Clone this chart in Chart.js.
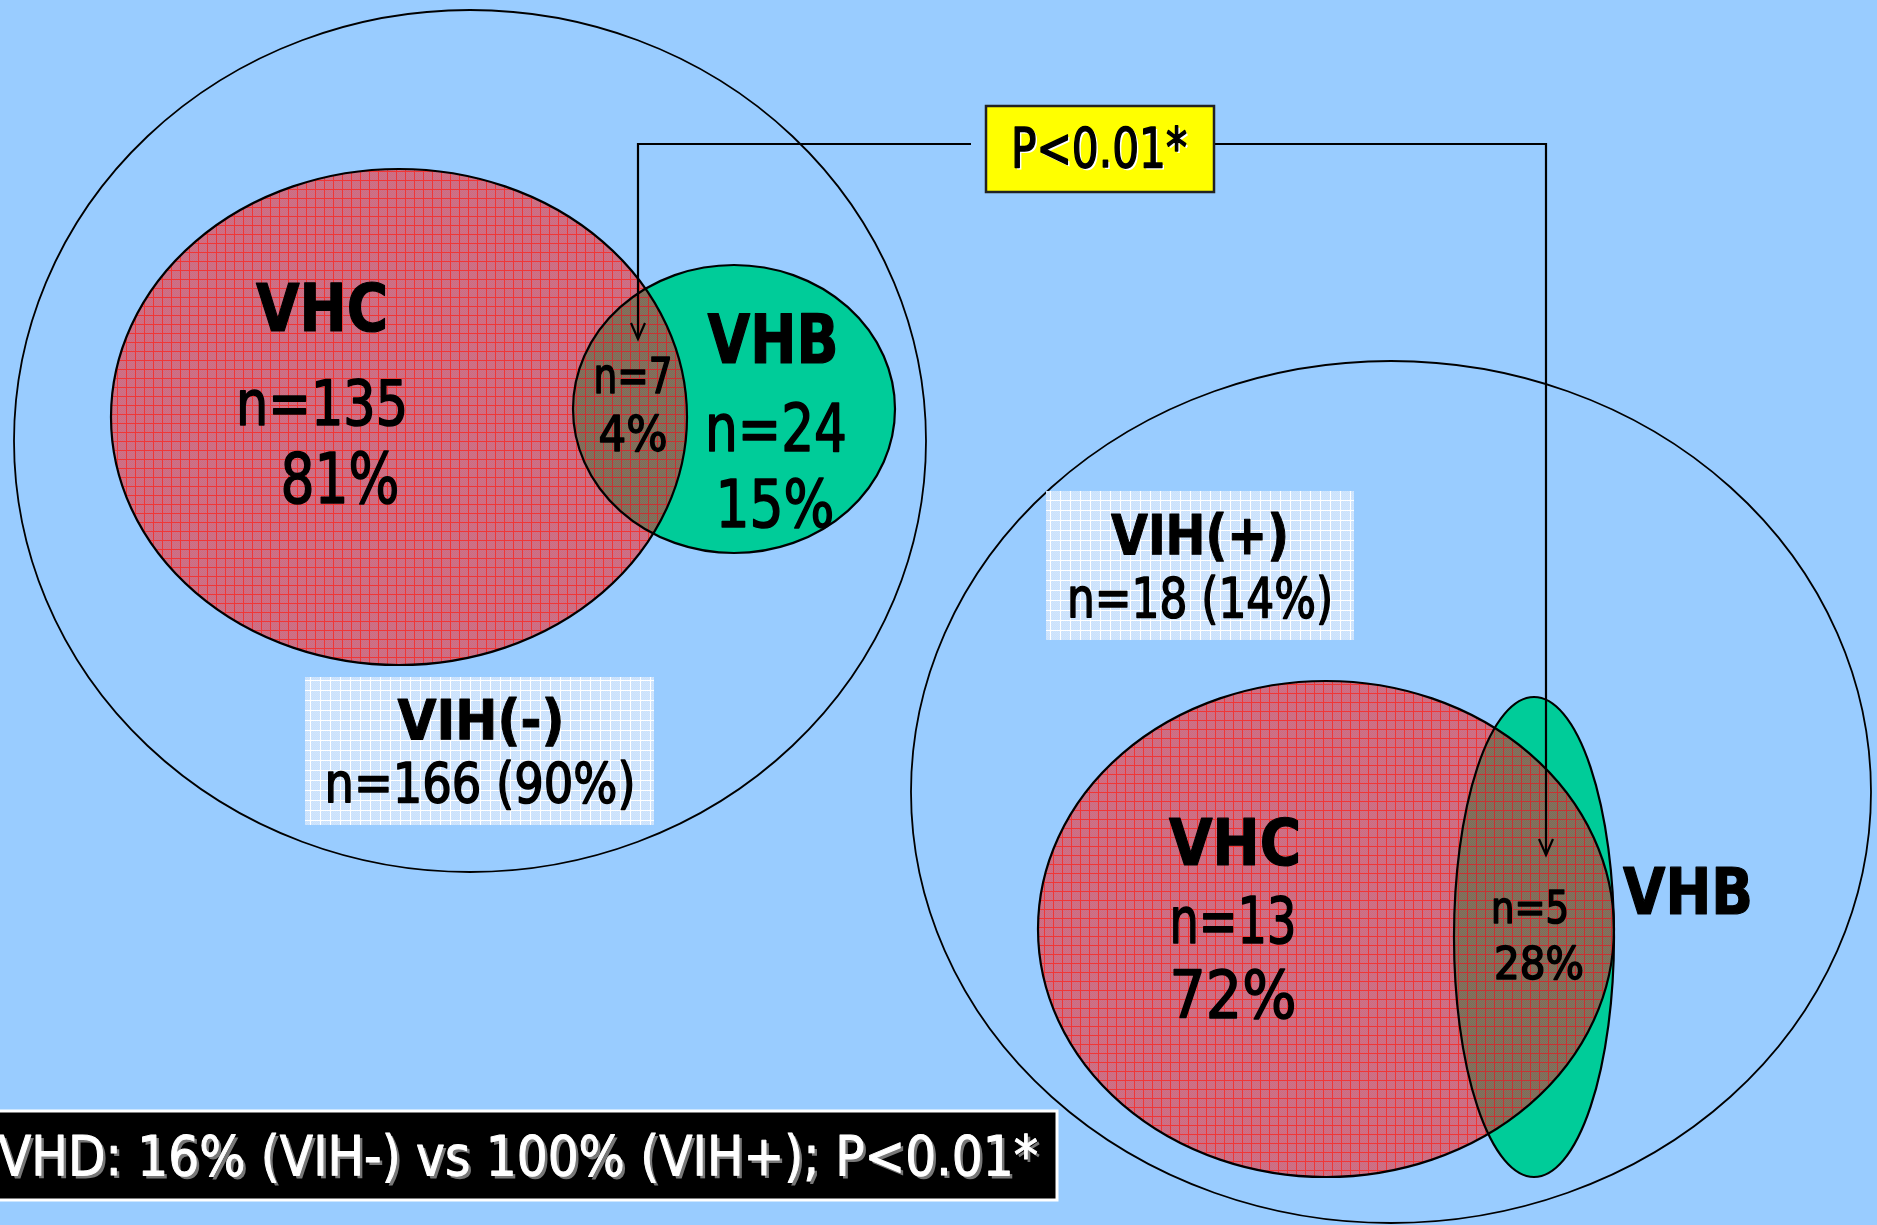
<!DOCTYPE html>
<html>
<head>
<meta charset="utf-8">
<script src="https://cdn.jsdelivr.net/npm/chart.js@4"></script>
<style>
html,body{margin:0;padding:0;background:#99CCFF;overflow:hidden;}
canvas{display:block;}
</style>
</head>
<body>
<canvas id="c" width="1877" height="1225"></canvas>
<script>
// ---------- DATA ----------
const groups   = ['VIH(-)', 'VIH(+)'];
const groupN   = [166, 18];
const groupPct = [90, 14];
const vhcN     = [135, 13];
const vhcPct   = [81, 72];
const vhbN     = [24, null];
const vhbPct   = [15, null];
const coN      = [7, 5];
const coPct    = [4, 28];
const pLabel   = 'P<0.01*';
const footerLabel = 'VHD: 16% (VIH-) vs 100% (VIH+); P<0.01*';

// ---------- LAYOUT (geometry in the 1877x1225 coordinate space) ----------
const layout = {
  outer: [{cx:470, cy:441, rx:456, ry:431}, {cx:1391, cy:792, rx:480, ry:431}],
  vhc:   [{cx:399, cy:417, rx:288, ry:248}, {cx:1326, cy:929, rx:288, ry:248}],
  vhb:   [{cx:734, cy:409, rx:161, ry:144}, {cx:1534, cy:937, rx:80, ry:240}],
  groupBox: [{x0:305, y0:677, x1:654, y1:825}, {x0:1046, y0:491, x1:1354, y1:640}],
  pBox: {x0:986, y0:106, x1:1214, y1:192},
  footBox: {x0:-4, y0:1111, x1:1057, y1:1200},
  arrowY: 144,
  arrowL: {x:638, yEnd:339},
  arrowR: {x:1546, yEnd:855},
  // text: [cx, baseline, capHeight, maxWidth]
  tVhc:   [[322,331,48,132],[1235,865,47,132]],
  tVhcN:  [[322,425,45,172],[1233,943,47,127]],
  tVhcP:  [[340,503,50,119],[1233,1018,48,127]],
  tVhb:   [[773,363,49,131],[1688,914,47,130]],
  tVhbN:  [[776,451,48,142],null],
  tVhbP:  [[775,527,48,119],null],
  tCoN:   [[633,393,36,79],[1530,923,33,78]],
  tCoP:   [[633,451,36,69],[1539,979,33,97]],
  tGrp:   [[481,739,41,180],[1200,554,41,178]],
  tGrpN:  [[480,802,40,311],[1200,617,40,266]],
  tP:     [1099,167,41,176],
  tFoot:  [-2,1175,40,1040]
};

const FONT = '"DejaVu Sans Condensed","DejaVu Sans",sans-serif';

function makePattern(base, line, step, alt){
  const c = document.createElement('canvas');
  c.width = step; c.height = step;
  const g = c.getContext('2d');
  g.fillStyle = base; g.fillRect(0,0,step,step);
  if (alt){
    g.fillStyle = alt;
    for (let i=0;i<step;i++) for (let j=0;j<step;j++) if ((i+j)%2===0) g.fillRect(i,j,1,1);
  }
  g.fillStyle = line;
  g.fillRect(0,0,step,1);
  g.fillRect(0,0,1,step);
  return c;
}

const vennPlugin = {
  id: 'venn',
  beforeDraw(chart){
    const ctx = chart.ctx;
    ctx.save();
    ctx.fillStyle = '#99CCFF';
    ctx.fillRect(0,0,chart.width,chart.height);
    ctx.restore();
  },
  afterDatasetsDraw(chart){
    const ctx = chart.ctx;
    const xs = chart.scales.x, ys = chart.scales.y;
    const px = v => xs.getPixelForValue(v);
    const py = v => ys.getPixelForValue(v);
    const ell = e => {
      ctx.beginPath();
      ctx.ellipse(px(e.cx), py(e.cy), Math.abs(px(e.cx+e.rx)-px(e.cx)), Math.abs(py(e.cy+e.ry)-py(e.cy)), 0, 0, Math.PI*2);
    };
    const pinkPat = ctx.createPattern(makePattern('#d2687e', '#f03636', 9, '#c97489'), 'repeat');
    const brownPat = ctx.createPattern(makePattern('#84725c', '#c83232', 9, '#7e6c5a'), 'repeat');
    const boxPat = ctx.createPattern(makePattern('#c9e1fc', '#ffffff', 10, '#d2e6fd'), 'repeat');

    // outer ellipses
    ctx.save();
    ctx.strokeStyle = '#000'; ctx.lineWidth = 1.8;
    layout.outer.forEach(e => { ell(e); ctx.stroke(); });
    ctx.restore();

    // group label boxes
    layout.groupBox.forEach(b => {
      ctx.save();
      ctx.fillStyle = boxPat;
      ctx.fillRect(px(b.x0), py(b.y0), px(b.x1)-px(b.x0), py(b.y1)-py(b.y0));
      ctx.restore();
    });

    // VHC / VHB circles
    for (let i=0;i<groups.length;i++){
      const c = layout.vhc[i], b = layout.vhb[i];
      ctx.save();
      ell(c); ctx.fillStyle = pinkPat; ctx.fill();
      ell(b); ctx.fillStyle = '#00CC99'; ctx.fill();
      // overlap
      ctx.save();
      ell(c); ctx.clip();
      ell(b); ctx.fillStyle = brownPat; ctx.fill();
      ctx.restore();
      ctx.strokeStyle = '#000'; ctx.lineWidth = 2.2;
      ell(c); ctx.stroke();
      ell(b); ctx.stroke();
      ctx.restore();
    }

    // connector lines + arrows
    const arrowHead = (x, y) => {
      ctx.beginPath();
      ctx.moveTo(x-7, y-16); ctx.lineTo(x, y); ctx.lineTo(x+7, y-16);
      ctx.stroke();
    };
    ctx.save();
    ctx.strokeStyle = '#000'; ctx.lineWidth = 2.2;
    const ay = py(layout.arrowY);
    ctx.beginPath();
    ctx.moveTo(px(layout.pBox.x0)-15, ay);
    ctx.lineTo(px(layout.arrowL.x), ay);
    ctx.lineTo(px(layout.arrowL.x), py(layout.arrowL.yEnd));
    ctx.stroke();
    arrowHead(px(layout.arrowL.x), py(layout.arrowL.yEnd));
    ctx.beginPath();
    ctx.moveTo(px(layout.pBox.x1), ay);
    ctx.lineTo(px(layout.arrowR.x), ay);
    ctx.lineTo(px(layout.arrowR.x), py(layout.arrowR.yEnd));
    ctx.stroke();
    arrowHead(px(layout.arrowR.x), py(layout.arrowR.yEnd));
    ctx.restore();

    // P box
    const pb = layout.pBox;
    ctx.save();
    ctx.fillStyle = '#FFFF00';
    ctx.fillRect(px(pb.x0), py(pb.y0), px(pb.x1)-px(pb.x0), py(pb.y1)-py(pb.y0));
    ctx.strokeStyle = '#222'; ctx.lineWidth = 2.5;
    ctx.strokeRect(px(pb.x0), py(pb.y0), px(pb.x1)-px(pb.x0), py(pb.y1)-py(pb.y0));
    ctx.restore();

    // footer box
    const fb = layout.footBox;
    ctx.save();
    ctx.fillStyle = '#000';
    ctx.fillRect(px(fb.x0), py(fb.y0), px(fb.x1)-px(fb.x0), py(fb.y1)-py(fb.y0));
    ctx.strokeStyle = '#fff'; ctx.lineWidth = 3;
    ctx.strokeRect(px(fb.x0), py(fb.y0), px(fb.x1)-px(fb.x0), py(fb.y1)-py(fb.y0));
    ctx.restore();

    // text helper: spec = [cx, baseline, capHeight, maxWidth]
    const txt = (s, spec, opts={}) => {
      if (!spec || s == null) return;
      const size = Math.round(spec[2]/0.729);
      ctx.save();
      ctx.font = (opts.bold ? 'bold ' : '') + size + 'px ' + FONT;
      ctx.textAlign = opts.align || 'center';
      ctx.textBaseline = 'alphabetic';
      const x = px(spec[0]), y = py(spec[1]);
      if (opts.shadow){
        ctx.fillStyle = opts.shadow;
        ctx.fillText(s, x+opts.sd, y+opts.sd, spec[3]);
      }
      ctx.fillStyle = opts.color || '#000';
      ctx.strokeStyle = opts.color || '#000';
      ctx.lineWidth = opts.thick == null ? 1.5 : opts.thick;
      ctx.lineJoin = 'round';
      if (ctx.lineWidth > 0) ctx.strokeText(s, x, y, spec[3]);
      ctx.fillText(s, x, y, spec[3]);
      ctx.restore();
    };

    for (let i=0;i<groups.length;i++){
      txt('VHC', layout.tVhc[i], {bold:true, thick:1.2});
      txt('n=' + vhcN[i], layout.tVhcN[i]);
      txt(vhcPct[i] + '%', layout.tVhcP[i]);
      txt('VHB', layout.tVhb[i], {bold:true, thick:1.2});
      if (vhbN[i] != null) txt('n=' + vhbN[i], layout.tVhbN[i]);
      if (vhbPct[i] != null) txt(vhbPct[i] + '%', layout.tVhbP[i]);
      txt('n=' + coN[i], layout.tCoN[i]);
      txt(coPct[i] + '%', layout.tCoP[i]);
      txt(groups[i], layout.tGrp[i], {bold:true, thick:1});
      txt('n=' + groupN[i] + ' (' + groupPct[i] + '%)', layout.tGrpN[i]);
    }
    txt(pLabel, layout.tP, {shadow:'#fff', sd:2});
    txt(footerLabel, layout.tFoot, {align:'left', color:'#fff', shadow:'#777', sd:3, thick:1});
  }
};

// datasets: ellipse centres, drawn invisibly as points on the library's scales
const centres = [];
for (let i=0;i<groups.length;i++){
  centres.push({x: layout.vhc[i].cx, y: layout.vhc[i].cy});
  centres.push({x: layout.vhb[i].cx, y: layout.vhb[i].cy});
}

new Chart(document.getElementById('c'), {
  type: 'scatter',
  data: { datasets: [{ label: 'centres', data: centres, pointRadius: 0, pointHoverRadius: 0 }] },
  options: {
    responsive: false,
    devicePixelRatio: 1,
    animation: false,
    layout: { padding: 0 },
    plugins: { legend: {display:false}, tooltip: {enabled:false} },
    events: [],
    scales: {
      x: { type:'linear', min:0, max:1877, display:false },
      y: { type:'linear', min:0, max:1225, reverse:true, display:false }
    }
  },
  plugins: [vennPlugin]
});
</script>
</body>
</html>
